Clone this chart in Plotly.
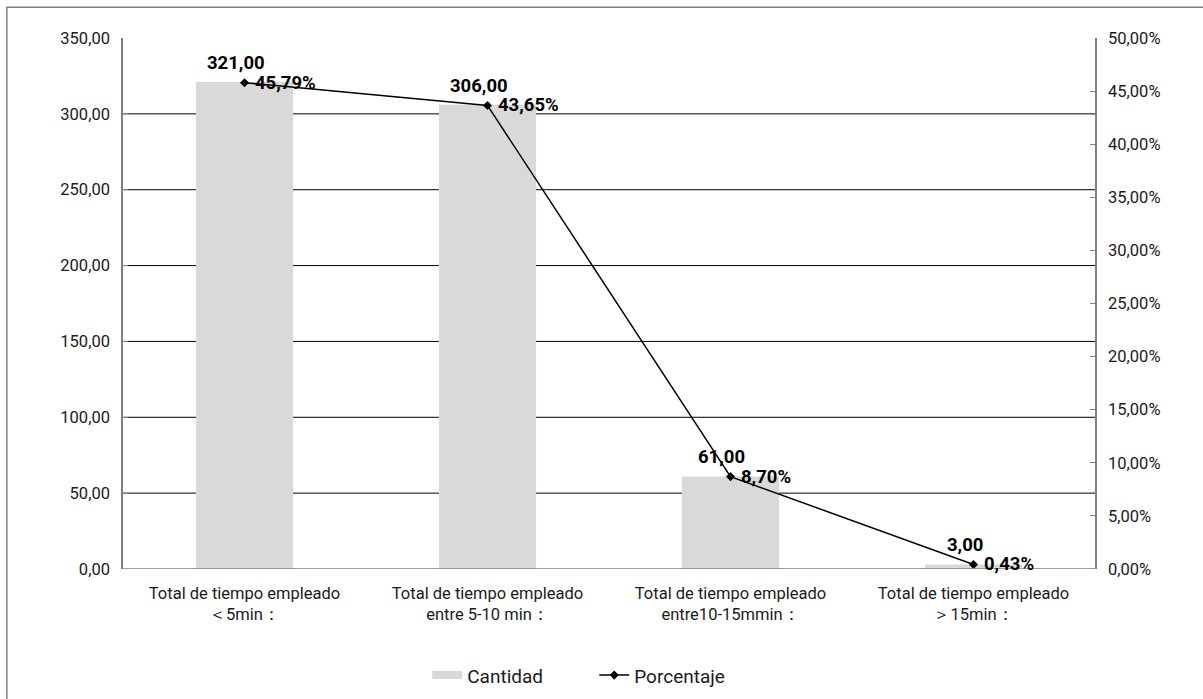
import plotly.graph_objects as go

# Time-spent categories with counts and share of total
categories = [
    "Total de tiempo empleado<br>＜5min：",
    "Total de tiempo empleado<br>entre 5-10 min：",
    "Total de tiempo empleado<br>entre10-15mmin：",
    "Total de tiempo empleado<br>＞15min：",
]
cantidad = [321.00, 306.00, 61.00, 3.00]
porcentaje = [0.4579, 0.4365, 0.0870, 0.0043]
left_ticks = [0, 50, 100, 150, 200, 250, 300, 350]
right_ticks = [0, 0.05, 0.10, 0.15, 0.20, 0.25, 0.30, 0.35, 0.40, 0.45, 0.50]

FONT = "Roboto, Liberation Sans, sans-serif"
BAR_COLOR = "#d9d9d9"

fig = go.Figure()

fig.add_trace(go.Bar(
    x=categories, y=cantidad, width=0.4,
    marker=dict(color=BAR_COLOR, line=dict(width=0)),
    name="Cantidad", showlegend=False, yaxis="y",
))

# legend proxy: a thick gray stroke instead of a square swatch
fig.add_trace(go.Scatter(
    x=[None], y=[None], mode="lines",
    line=dict(color=BAR_COLOR, width=8),
    name="Cantidad", showlegend=True, yaxis="y",
))

fig.add_trace(go.Scatter(
    x=categories, y=porcentaje, mode="lines+markers",
    line=dict(color="black", width=1.5),
    marker=dict(symbol="diamond", size=7, color="black"),
    name="Porcentaje", yaxis="y2",
))

annotations = []
for c, v in zip(categories, cantidad):
    annotations.append(dict(
        x=c, y=v, xref="x", yref="y", text=f"{v:.2f}".replace(".", ","),
        showarrow=False, xanchor="center", yanchor="bottom",
        xshift=-9, yshift=6,
        font=dict(family=FONT, size=18.5, color="black", weight="bold"),
    ))
for c, p in zip(categories, porcentaje):
    annotations.append(dict(
        x=c, y=p, xref="x", yref="y2", text=f"{p*100:.2f}%".replace(".", ","),
        showarrow=False, xanchor="left", yanchor="middle",
        xshift=8, yshift=0,
        font=dict(family=FONT, size=18.5, color="black", weight="bold"),
    ))

shapes = []
# horizontal gridlines (no line along the top edge)
for v in left_ticks[1:-1]:
    shapes.append(dict(type="line", xref="paper", yref="y", x0=0, x1=1, y0=v, y1=v,
                       line=dict(color="black", width=1), layer="below"))
# outer frame of the chart area
shapes.append(dict(type="rect", xref="paper", yref="paper",
                   x0=-0.1195, x1=1.2, y0=-0.5, y1=1.058,
                   line=dict(color="#808080", width=1.5)))
# x axis baseline in gray
shapes.append(dict(type="line", xref="paper", yref="y", x0=0, x1=1, y0=0, y1=0,
                   line=dict(color="#808080", width=1.5)))

fig.update_layout(
    width=1203, height=699,
    margin=dict(l=123, r=108, t=38, b=130),
    paper_bgcolor="white", plot_bgcolor="white",
    separators=",.",
    font=dict(family=FONT, size=16.5, color="#1a1a1a"),
    bargap=0.6,
    xaxis=dict(
        type="category", range=[-0.5, 3.5],
        showline=False, showgrid=False, ticks="",
        tickfont=dict(size=16.5), ticklabelstandoff=12,
    ),
    yaxis=dict(
        range=[0, 350], tickvals=left_ticks, tickformat=".2f",
        showgrid=False, zeroline=False,
        showline=True, linecolor="#808080", linewidth=1.5,
        ticks="inside", ticklen=5, tickcolor="#808080",
        mirror=False, ticklabelstandoff=8,
        tickfont=dict(size=16.5),
    ),
    yaxis2=dict(
        range=[0, 0.5], tickvals=right_ticks, tickformat=".2%",
        overlaying="y", side="right",
        showgrid=False, zeroline=False,
        showline=True, linecolor="#808080", linewidth=1.5,
        ticks="inside", ticklen=5, tickcolor="#808080",
        ticklabelstandoff=8,
        tickfont=dict(size=16.5),
    ),
    legend=dict(
        orientation="h", x=0.313, xanchor="left",
        yref="container", y=0.034, yanchor="middle",
        font=dict(size=19), itemwidth=30, entrywidth=122,
        bgcolor="rgba(0,0,0,0)",
    ),
    annotations=annotations,
    shapes=shapes,
)

fig.write_html("out.html")
